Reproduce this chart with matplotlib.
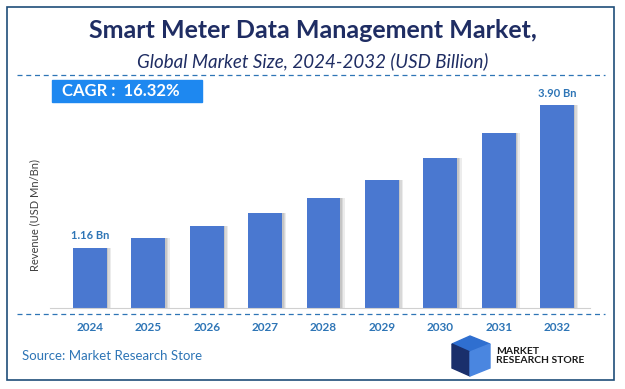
import numpy as np
import matplotlib.pyplot as plt
from matplotlib.patches import Rectangle, Polygon

years = ['2024', '2025', '2026', '2027', '2028', '2029', '2030', '2031', '2032']
revenue = [1.16, 1.35, 1.58, 1.83, 2.11, 2.46, 2.88, 3.36, 3.90]
labels = {0: '1.16 Bn', 8: '3.90 Bn'}

W, H = 625, 389
fig = plt.figure(figsize=(W / 100, H / 100), dpi=100)
plt.rcParams['font.family'] = ['Lato', 'DejaVu Sans']

navy = '#1f2d63'
blue = '#2e75b6'
bar_c = '#4a78d0'


def fx(px):
    return px / W


def fy(py):
    return 1 - py / H


# outer frame
fig.patches.append(Rectangle((fx(7), fy(380)), fx(607), (380 - 7) / H, transform=fig.transFigure,
                             fill=False, ec='#1f4e79', lw=1.2))

fig.text(0.5, fy(31), 'Smart Meter Data Management Market,', ha='center', va='center',
         fontsize=18, fontweight='bold', color=navy)
fig.text(0.5, fy(61), 'Global Market Size, 2024-2032 (USD Billion)', ha='center', va='center',
         fontsize=13.5, style='italic', color=navy)

for y in (75, 314):
    fig.add_artist(plt.Line2D([fx(17), fx(605)], [fy(y), fy(y)], transform=fig.transFigure,
                              color=blue, lw=0.9, ls=(0, (4, 3))))

# CAGR box
fig.patches.append(Rectangle((fx(52), fy(102)), fx(150), 22 / H, transform=fig.transFigure,
                             color='#1e88f0'))
fig.text(fx(62), fy(91), 'CAGR :  16.32%', ha='left', va='center', fontsize=12,
         fontweight='bold', color='white')

ax = fig.add_axes([fx(50), fy(308), fx(540), 218 / H])
x = np.arange(len(years))
for k, a in enumerate([0.45, 0.3, 0.15]):
    ax.bar(x + 0.29 + 0.025 * k + 0.0125, revenue, width=0.025, color='#808080',
           alpha=a, zorder=1, lw=0)
ax.bar(x, revenue, width=0.58, color=bar_c, zorder=2)
ax.set_xlim(-0.685, 8.565)
ax.set_ylim(0, 3.90 * 218 / 203)
for s in ['top', 'right', 'left']:
    ax.spines[s].set_visible(False)
ax.spines['bottom'].set_color('#d0d0d0')
ax.set_yticks([])
ax.set_xticks(x)
ax.set_xticklabels(years, fontsize=8.5, fontweight='bold', color=blue)
ax.tick_params(axis='x', length=0, pad=10)
for i, t in labels.items():
    ax.text(i, revenue[i] + 0.12, t, ha='center', va='bottom', fontsize=8,
            fontweight='bold', color=blue)

fig.text(fx(35), fy(215), 'Revenue (USD Mn/Bn)', rotation=90, ha='center', va='center',
         fontsize=8, color='#404040')

fig.text(fx(22), fy(356), 'Source: Market Research Store', ha='left', va='center',
         fontsize=9.5, color=blue)

# logo
cube = [
    [(452, 344), (470, 336), (490, 344), (470, 352)],
    [(452, 344), (470, 352), (470, 376), (452, 368)],
    [(470, 352), (490, 344), (490, 368), (470, 376)],
]
for pts, c in zip(cube, ['#2f6fd0', '#1a2f6b', '#4a86e0']):
    fig.patches.append(Polygon([(fx(a), fy(b)) for a, b in pts], closed=True,
                               transform=fig.transFigure, color=c))
fig.text(fx(496), fy(356), 'MARKET\nRESEARCH STORE', ha='left', va='center', fontsize=7.5,
         fontweight='bold', color='#1a1a1a', linespacing=0.95)

fig.savefig('out.png', dpi=100)
